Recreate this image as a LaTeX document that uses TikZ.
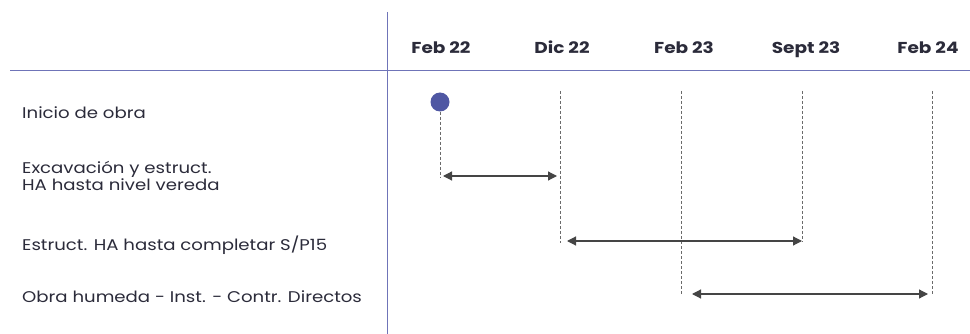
\documentclass[tikz,border=0pt]{standalone}
\usepackage{fontspec}
\setmainfont{Poppins}[FakeStretch=1.17]
\usetikzlibrary{arrows.meta}
\definecolor{axisblue}{HTML}{6F74B8}
\definecolor{dotblue}{HTML}{4F57A3}
\definecolor{txt}{HTML}{2B2B3A}
\definecolor{arr}{HTML}{454545}
\tikzset{
  lbl/.style={anchor=base west, inner sep=0pt, text=txt, font=\fontsize{15.5}{17.7}\selectfont, align=left},
  month/.style={anchor=base, inner sep=0pt, text=txt, font=\bfseries\fontsize{15.8}{17}\selectfont},
  guide/.style={draw=arr!80, dashed, dash pattern=on 3pt off 2pt, line width=0.8pt},
  span/.style={draw=arr, line width=1.2pt, {Triangle[length=9pt,width=9pt]}-{Triangle[length=9pt,width=9pt]}},
  axis/.style={draw=axisblue, line width=1pt}
}
\begin{document}
\begin{tikzpicture}[x=1pt,y=-1pt]
\useasboundingbox (0,0) rectangle (970,334);
% axes
\coordinate (vtop) at (387,12);
\coordinate (vbot) at (387,334);
\coordinate (hl) at (10,71);
\coordinate (hr) at (970,71);
\draw[axis] (vtop) -- (vbot);
\draw[axis] (hl) -- (hr);
% months
\node[month] (m1) at (441,53.5) {Feb 22};
\node[month] (m2) at (562,53.5) {Dic 22};
\node[month] (m3) at (684,53.5) {Feb 23};
\node[month] (m4) at (806,53.5) {Sept 23};
\node[month] (m5) at (928,53.5) {Feb 24};
% labels
\node[lbl] (t1) at (22,119) {Inicio de obra};
\node[lbl, anchor=west] (t2) at (22,176) {Excavación y estruct.\\[-1pt]HA hasta nivel vereda};
\node[lbl] (t3) at (22,251) {Estruct. HA hasta completar S/P15};
\node[lbl] (t4) at (22,302.5) {Obra humeda - Inst. - Contr. Directos};
% dot
\node[circle, fill=dotblue, minimum size=19pt, inner sep=0pt] (dot) at (440,102) {};
% guide coordinates
\coordinate (g1b) at (440,178);
\coordinate (g2t) at (560,91); \coordinate (g2b) at (560,243);
\coordinate (g3t) at (681,91); \coordinate (g3b) at (681,295);
\coordinate (g4t) at (802,91); \coordinate (g4b) at (802,242);
\coordinate (g5t) at (932,91); \coordinate (g5b) at (932,295);
\draw[guide] (dot.south) -- (g1b);
\draw[guide] (g2t) -- (g2b);
\draw[guide] (g3t) -- (g3b);
\draw[guide] (g4t) -- (g4b);
\draw[guide] (g5t) -- (g5b);
% spans
\coordinate (a1l) at (443,176); \coordinate (a1r) at (557,176);
\coordinate (a2l) at (567,241); \coordinate (a2r) at (802,241);
\coordinate (a3l) at (692,294); \coordinate (a3r) at (928,294);
\draw[span] (a1l) -- (a1r);
\draw[span] (a2l) -- (a2r);
\draw[span] (a3l) -- (a3r);
\end{tikzpicture}
\end{document}
